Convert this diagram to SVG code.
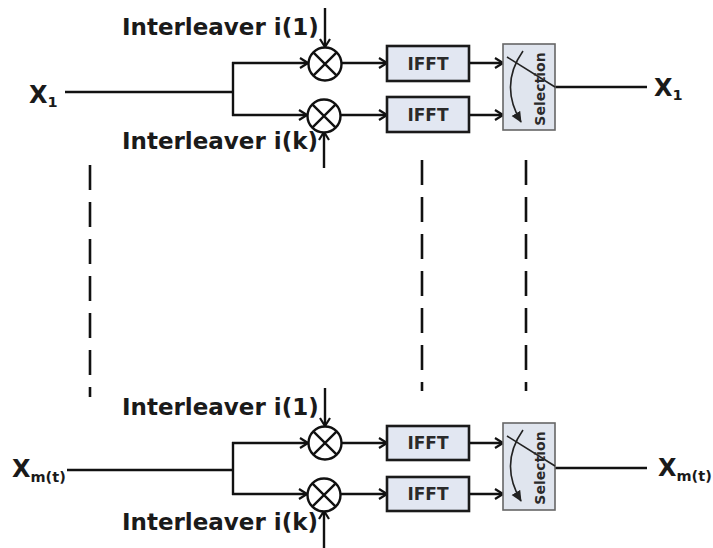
<svg xmlns="http://www.w3.org/2000/svg" width="713" height="548" viewBox="0 0 713 548">
<defs>
<marker id="ah" markerWidth="10" markerHeight="12" refX="9" refY="6" orient="auto" markerUnits="userSpaceOnUse">
<path d="M1,1 L9,6 L1,11" fill="none" stroke="#111" stroke-width="2.2"/>
</marker>
<marker id="ahf" markerWidth="12" markerHeight="12" refX="10" refY="6" orient="auto" markerUnits="userSpaceOnUse">
<path d="M0,1 L11,6 L0,11 Z" fill="#222"/>
</marker>
</defs>
<style>
.ln{stroke:#111;stroke-width:2.4;fill:none}
.dash{stroke:#111;stroke-width:2.6;fill:none;stroke-dasharray:25 12}
.mix{fill:#fff;stroke:#111;stroke-width:2.4}
.ifft{fill:#e2e7f2;stroke:#1a1a1a;stroke-width:2.6}
.sel{fill:#e0e5ee;stroke:#666;stroke-width:1.6}
.lbl{font-family:"DejaVu Sans",Verdana,sans-serif;font-weight:bold;fill:#1a1a1a}
.il{font-size:23px}
.bt{font-size:17px;text-anchor:middle;fill:#2a2a2a}
.st{font-size:14px;text-anchor:middle;fill:#2a2a2a}
.big{font-size:24px}
.sub{font-size:14.5px}
</style>
<rect width="713" height="548" fill="#fff"/>

<g id="connectors">
<!-- top section -->
<line class="ln" x1="65" y1="92" x2="233" y2="92"/>
<line class="ln" x1="233" y1="62" x2="233" y2="116"/>
<line class="ln" x1="232" y1="63" x2="308" y2="63" marker-end="url(#ah)"/>
<line class="ln" x1="232" y1="115" x2="307" y2="115" marker-end="url(#ah)"/>
<line class="ln" x1="325" y1="8" x2="325" y2="47" marker-end="url(#ah)"/>
<line class="ln" x1="324" y1="168" x2="324" y2="132" marker-end="url(#ah)"/>
<line class="ln" x1="342" y1="63" x2="387" y2="63" marker-end="url(#ah)"/>
<line class="ln" x1="341" y1="115" x2="387" y2="115" marker-end="url(#ah)"/>
<line class="ln" x1="470" y1="63" x2="503" y2="63" marker-end="url(#ah)"/>
<line class="ln" x1="470" y1="115" x2="503" y2="115" marker-end="url(#ah)"/>
<line class="ln" x1="555" y1="87" x2="647" y2="87"/>
<!-- dashed -->
<line class="dash" x1="90" y1="165" x2="90" y2="397"/>
<line class="dash" x1="422" y1="160" x2="422" y2="391"/>
<line class="dash" x1="526" y1="160" x2="526" y2="391"/>
<!-- bottom section -->
<line class="ln" x1="67" y1="470" x2="233" y2="470"/>
<line class="ln" x1="233" y1="442" x2="233" y2="495"/>
<line class="ln" x1="232" y1="443" x2="308" y2="443" marker-end="url(#ah)"/>
<line class="ln" x1="232" y1="494" x2="307" y2="494" marker-end="url(#ah)"/>
<line class="ln" x1="325" y1="388" x2="325" y2="426" marker-end="url(#ah)"/>
<line class="ln" x1="324" y1="548" x2="324" y2="511" marker-end="url(#ah)"/>
<line class="ln" x1="342" y1="443" x2="387" y2="443" marker-end="url(#ah)"/>
<line class="ln" x1="341" y1="494" x2="387" y2="494" marker-end="url(#ah)"/>
<line class="ln" x1="470" y1="443" x2="503" y2="443" marker-end="url(#ah)"/>
<line class="ln" x1="470" y1="494" x2="503" y2="494" marker-end="url(#ah)"/>
<line class="ln" x1="555" y1="468" x2="647" y2="468"/>
</g>

<g id="in-x1"><text class="lbl big" x="29" y="103">X<tspan class="sub" dy="4">1</tspan></text></g>
<g id="il1-top"><text class="lbl il" x="122" y="35">Interleaver i(1)</text></g>
<g id="ilk-top"><text class="lbl il" x="122" y="149">Interleaver i(k)</text></g>
<g id="mix1-top"><circle class="mix" cx="325" cy="64" r="16.5"/><path class="ln" d="M313.3,52.3 L336.7,75.7 M336.7,52.3 L313.3,75.7"/></g>
<g id="mix2-top"><circle class="mix" cx="324" cy="116" r="16.5"/><path class="ln" d="M312.3,104.3 L335.7,127.7 M335.7,104.3 L312.3,127.7"/></g>
<g id="ifft1-top"><rect class="ifft" x="387" y="46" width="82" height="35"/><text class="lbl bt" x="428" y="70">IFFT</text></g>
<g id="ifft2-top"><rect class="ifft" x="387" y="97" width="82" height="35"/><text class="lbl bt" x="428" y="121">IFFT</text></g>
<g id="sel-top">
<rect class="sel" x="503" y="44" width="52" height="86"/>
<line x1="507" y1="57" x2="555" y2="87" stroke="#222" stroke-width="1.6"/>
<path d="M523,51 Q499,85 521,122" fill="none" stroke="#222" stroke-width="1.6" marker-end="url(#ahf)"/>
<text class="lbl st" transform="translate(545,89) rotate(-90)">Selection</text>
</g>
<g id="out-x1"><text class="lbl big" x="654" y="96">X<tspan class="sub" dy="4">1</tspan></text></g>

<g id="in-xm"><text class="lbl big" x="12" y="477">X<tspan class="sub" dy="5">m(t)</tspan></text></g>
<g id="il1-bot"><text class="lbl il" x="122" y="415">Interleaver i(1)</text></g>
<g id="ilk-bot"><text class="lbl il" x="122" y="530">Interleaver i(k)</text></g>
<g id="mix1-bot"><circle class="mix" cx="325" cy="443" r="16.5"/><path class="ln" d="M313.3,431.3 L336.7,454.7 M336.7,431.3 L313.3,454.7"/></g>
<g id="mix2-bot"><circle class="mix" cx="324" cy="495" r="16.5"/><path class="ln" d="M312.3,483.3 L335.7,506.7 M335.7,483.3 L312.3,506.7"/></g>
<g id="ifft1-bot"><rect class="ifft" x="387" y="426" width="82" height="34"/><text class="lbl bt" x="428" y="449">IFFT</text></g>
<g id="ifft2-bot"><rect class="ifft" x="387" y="477" width="82" height="34"/><text class="lbl bt" x="428" y="500">IFFT</text></g>
<g id="sel-bot">
<rect class="sel" x="503" y="423" width="52" height="87"/>
<line x1="507" y1="436" x2="555" y2="466" stroke="#222" stroke-width="1.6"/>
<path d="M523,430 Q499,464 521,501" fill="none" stroke="#222" stroke-width="1.6" marker-end="url(#ahf)"/>
<text class="lbl st" transform="translate(545,468) rotate(-90)">Selection</text>
</g>
<g id="out-xm"><text class="lbl big" x="658" y="476">X<tspan class="sub" dy="5">m(t)</tspan></text></g>
</svg>
